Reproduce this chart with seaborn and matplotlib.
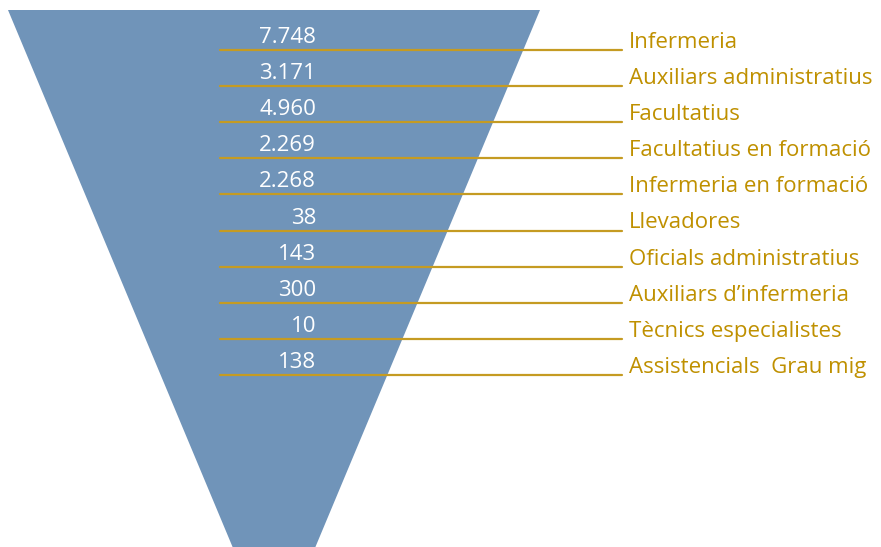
import pandas as pd
import seaborn as sns
import matplotlib.pyplot as plt

# funnel rows, top to bottom
categories = ['Infermeria', 'Auxiliars administratius', 'Facultatius',
              'Facultatius en formació', 'Infermeria en formació', 'Llevadores',
              'Oficials administratius', 'Auxiliars d\u2019infermeria',
              'Tècnics especialistes', 'Assistencials  Grau mig']
values = [7748, 3171, 4960, 2269, 2268, 38, 143, 300, 10, 138]
value_labels = ['7.748', '3.171', '4.960', '2.269', '2.268', '38', '143', '300', '10', '138']

BLUE = '#7094B9'
GOLD = '#C59B22'
TEXT_GOLD = '#BF9000'


def build_rows():
    """ One row per category with its leader line position. """
    df = pd.DataFrame({'category': categories, 'value': values, 'label': value_labels})
    df['pos'] = range(len(df))
    df['y'] = 50 + df['pos'] * 36.1
    return df


def draw(df):
    sns.set_theme(style='white')
    plt.rcParams['font.family'] = ['Open Sans', 'DejaVu Sans']

    fig = plt.figure(figsize=(8.81, 5.47), dpi=100)
    ax = fig.add_axes([0, 0, 1, 1])

    # inverted triangle (apex falls below the picture)
    ax.fill([8, 540, 274], [10, 10, 646], color=BLUE, lw=0, zorder=1)

    # leader lines
    lines = pd.concat([df.assign(x=220), df.assign(x=622)])
    sns.lineplot(data=lines, x='x', y='y', units='pos', estimator=None,
                 color=GOLD, lw=1.6, ax=ax, zorder=2, legend=False)
    ax.set_xlim(0, 881)
    ax.set_ylim(547, 0)
    ax.axis('off')

    for _, r in df.iterrows():
        ax.text(316, r['y'] - 7, r['label'], color='white', fontsize=16,
                ha='right', va='baseline', zorder=3)
        ax.text(629, r['y'] - 2, r['category'], color=TEXT_GOLD, fontsize=16,
                ha='left', va='baseline', zorder=3)

    fig.savefig('out.png', dpi=100)


def main():
    draw(build_rows())


if __name__ == '__main__':
    main()
